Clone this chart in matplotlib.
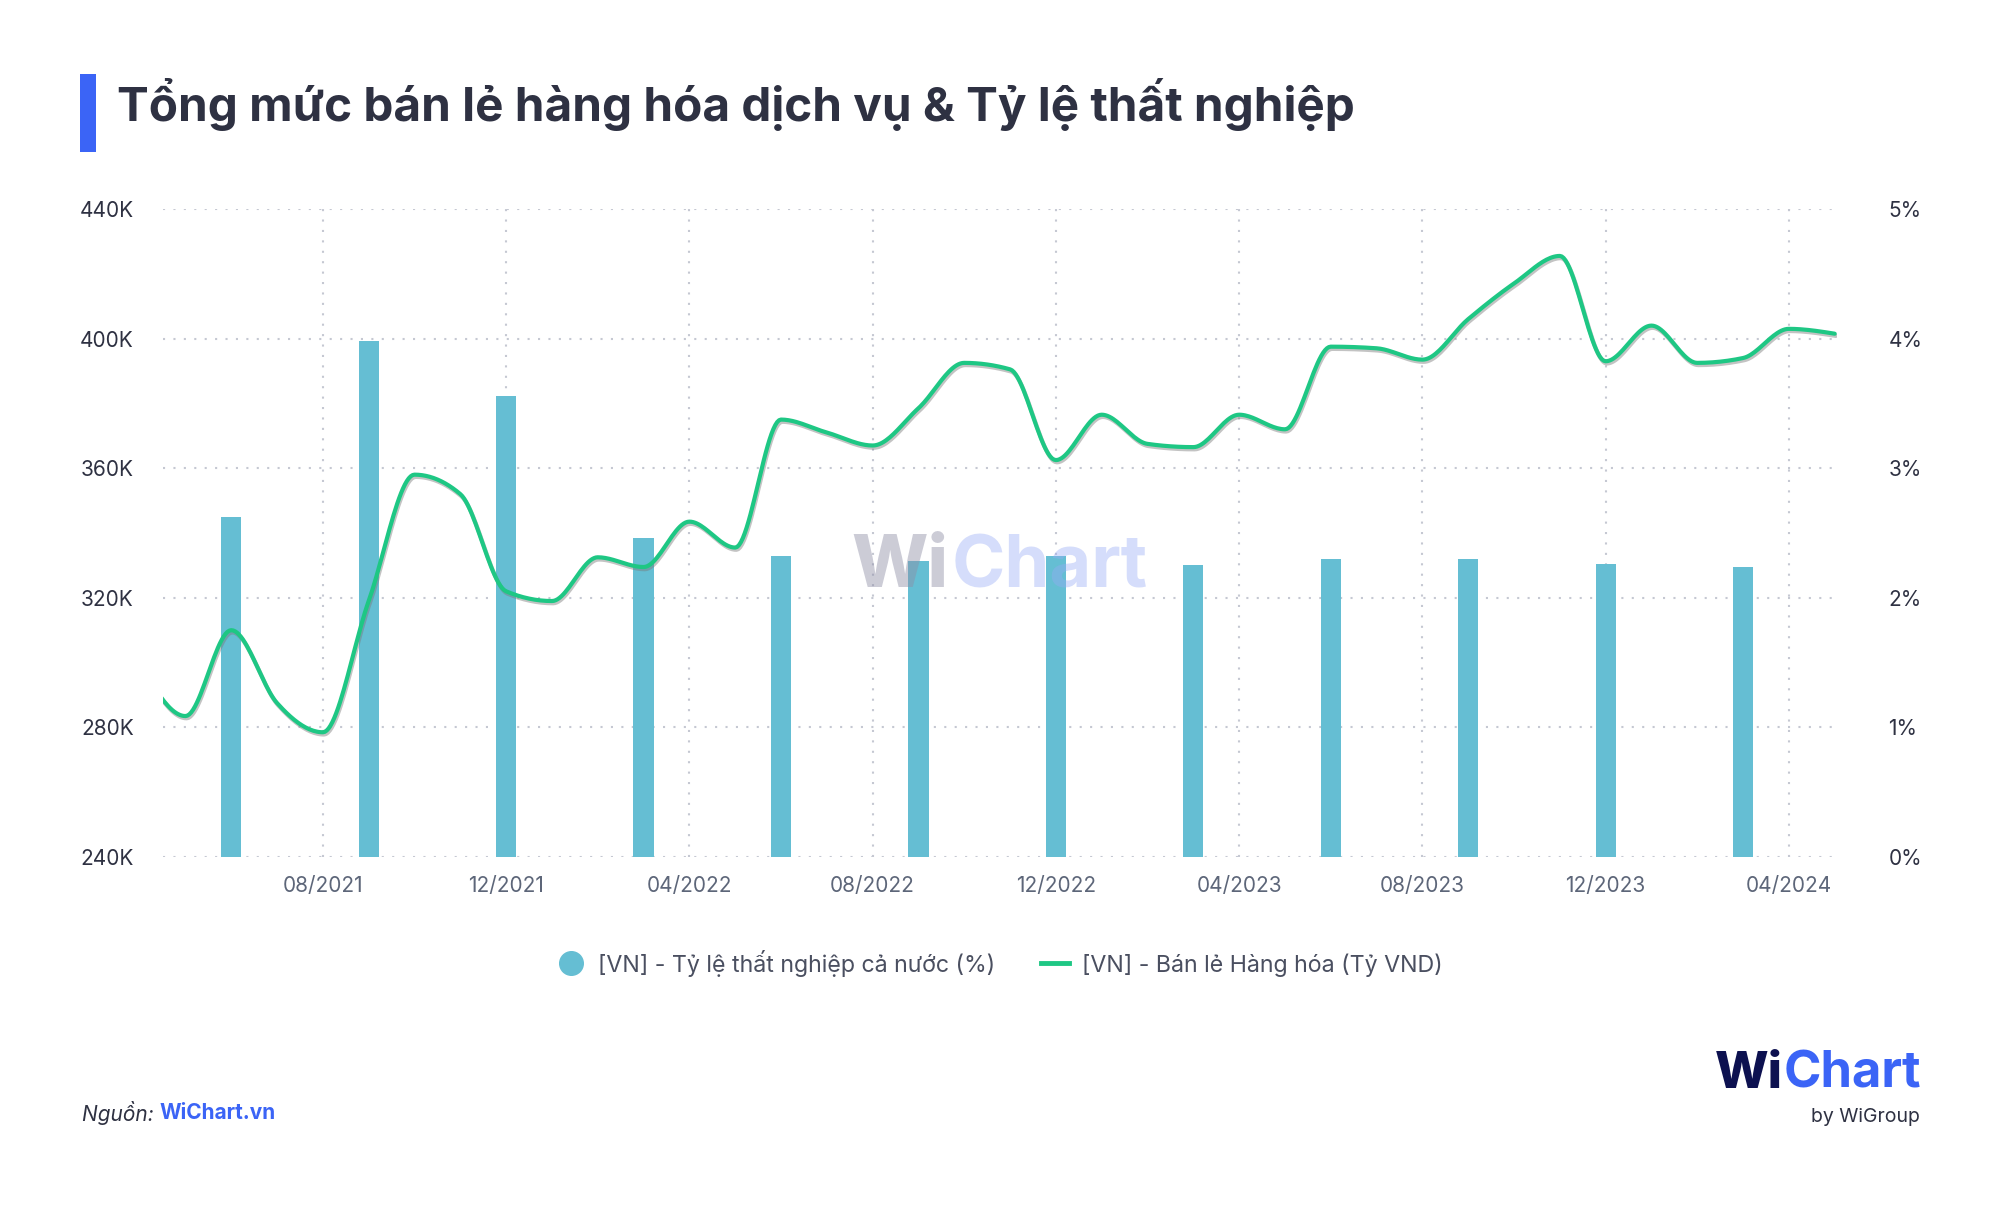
import numpy as np
import matplotlib
matplotlib.use("Agg")
import matplotlib.pyplot as plt
from matplotlib.lines import Line2D
from matplotlib.patches import Rectangle
import matplotlib.patheffects as pe

plt.rcParams['font.family'] = ['Inter', 'DejaVu Sans']

# ---------------- data ----------------
months = ["2021-04", "2021-05", "2021-06", "2021-07", "2021-08", "2021-09", "2021-10",
          "2021-11", "2021-12", "2022-01", "2022-02", "2022-03", "2022-04", "2022-05",
          "2022-06", "2022-07", "2022-08", "2022-09", "2022-10", "2022-11", "2022-12",
          "2023-01", "2023-02", "2023-03", "2023-04", "2023-05", "2023-06", "2023-07",
          "2023-08", "2023-09", "2023-10", "2023-11", "2023-12", "2024-01", "2024-02",
          "2024-03", "2024-04", "2024-05"]
retail_k = [300, 283.5, 310, 287.5, 278.5, 319, 358, 352, 322, 319, 332.5, 329.5,
            343.5, 335.5, 375, 371, 367, 378.5, 392.5, 390.5, 362.5, 376.5, 367.5,
            366.5, 376.5, 372, 397.5, 397, 393.5, 406, 417, 425.5, 393, 404, 392.5,
            394, 403, 401.5]
quarters = ["2021-06", "2021-09", "2021-12", "2022-03", "2022-06", "2022-09",
            "2022-12", "2023-03", "2023-06", "2023-09", "2023-12", "2024-03"]
unemp = [2.62, 3.98, 3.56, 2.46, 2.32, 2.28, 2.32, 2.25, 2.30, 2.30, 2.26, 2.24]
xtick_months = ["2021-08", "2021-12", "2022-04", "2022-08", "2022-12",
                "2023-04", "2023-08", "2023-12", "2024-04"]
xtick_labels = ["08/2021", "12/2021", "04/2022", "08/2022", "12/2022",
                "04/2023", "08/2023", "12/2023", "04/2024"]
left_ticks = [240, 280, 320, 360, 400, 440]
left_labels = ["240K", "280K", "320K", "360K", "400K", "440K"]
right_ticks = [0, 1, 2, 3, 4, 5]
right_labels = ["0%", "1%", "2%", "3%", "4%", "5%"]

title = "Tổng mức bán lẻ hàng hóa dịch vụ & Tỷ lệ thất nghiệp"
legend_bar = "[VN] - Tỷ lệ thất nghiệp cả nước (%)"
legend_line = "[VN] - Bán lẻ Hàng hóa (Tỷ VND)"


def midx(s):
    y, m = s.split("-")
    return (int(y) - 2021) * 12 + int(m) - 8   # 0 = Aug 2021


def monotone_x(x, y, n=24):
    x = np.asarray(x, float); y = np.asarray(y, float)
    h = np.diff(x); s = np.diff(y) / h
    m = np.zeros_like(y)
    for k in range(1, len(y) - 1):
        h0, h1, s0, s1 = h[k - 1], h[k], s[k - 1], s[k]
        p = (s0 * h1 + s1 * h0) / (h0 + h1)
        m[k] = (np.sign(s0) + np.sign(s1)) * min(abs(s0), abs(s1), 0.5 * abs(p))
    m[0] = (3 * s[0] - m[1]) / 2
    m[-1] = (3 * s[-1] - m[-2]) / 2
    xs, ys = [], []
    for k in range(len(h)):
        t = np.linspace(0, 1, n, endpoint=False)
        h00 = 2 * t**3 - 3 * t**2 + 1; h10 = t**3 - 2 * t**2 + t
        h01 = -2 * t**3 + 3 * t**2; h11 = t**3 - t**2
        xs.append(x[k] + t * h[k])
        ys.append(h00 * y[k] + h10 * h[k] * m[k] + h01 * y[k + 1] + h11 * h[k] * m[k + 1])
    xs.append([x[-1]]); ys.append([y[-1]])
    return np.concatenate(xs), np.concatenate(ys)


bar_color = "#65BED3"
line_color = "#1EC784"
grid_color = "#C5C8D2"
text_dark = "#2E3142"
tick_gray = "#5D6679"

fig = plt.figure(figsize=(20, 12.17), dpi=100)
fig.patch.set_facecolor("white")

ax_bar = fig.add_axes([0.0815, 0.2958, 0.837, 0.5325])
ax = ax_bar.twinx()
ax.set_zorder(ax_bar.get_zorder() + 1)
ax.patch.set_visible(False)

# bars (right axis)
qx = [midx(q) for q in quarters]
ax_bar.bar(qx, unemp, width=0.44, color=bar_color, zorder=2)
ax_bar.set_ylim(0, 5)
ax_bar.set_xlim(-3.49, 33.05)
ax_bar.yaxis.tick_right()
ax_bar.set_yticks(right_ticks)
ax_bar.set_yticklabels(right_labels)
ax_bar.set_axisbelow(True)
ax_bar.grid(True, axis="both", color=grid_color, linestyle=(0, (1, 4)), linewidth=1.5)
ax_bar.set_xticks([midx(m) for m in xtick_months])
ax_bar.set_xticklabels(xtick_labels)

# line (left axis)
mx = [midx(m) for m in months]
lx, ly = monotone_x(mx, retail_k)
ax.plot(lx, ly, color=line_color, linewidth=3.0, solid_capstyle="round",
        path_effects=[pe.SimpleLineShadow(offset=(0.8, -1.6), shadow_color="#7a7a7a", alpha=0.45),
                      pe.Normal()], zorder=3)
ax.set_ylim(240, 440)
ax.set_xlim(-3.49, 33.05)
ax.yaxis.tick_left()
ax.set_yticks(left_ticks)
ax.set_yticklabels(left_labels)

for a in (ax, ax_bar):
    for sp in a.spines.values():
        sp.set_visible(False)
    a.tick_params(length=0)
ax.tick_params(axis="y", labelsize=15, labelcolor=text_dark, pad=21)
ax_bar.tick_params(axis="y", labelsize=15, labelcolor=text_dark, pad=37)
ax_bar.tick_params(axis="x", labelsize=15, labelcolor=tick_gray, pad=14)

# title
fig.add_artist(Rectangle((0.040, 0.875), 0.0078, 0.0645, transform=fig.transFigure,
                         color="#3B64F6", lw=0))
fig.text(0.0585, 0.9145, title, fontsize=34.3, fontweight="bold", color=text_dark,
         va="center", ha="left")

# legend
handles = [Line2D([], [], marker="o", linestyle="none", markersize=17,
                  markerfacecolor=bar_color, markeredgecolor=bar_color),
           Line2D([], [], color=line_color, linewidth=3.5)]
fig.legend(handles, [legend_bar, legend_line], loc="center", bbox_to_anchor=(0.5, 0.2087),
           ncol=2, frameon=False, fontsize=16.7, labelcolor="#4A4F60",
           handlelength=1.2, handletextpad=0.55, columnspacing=2.0)

# watermark
fig.canvas.draw()
w1 = fig.text(0.4255, 0.533, "Wi", fontsize=52, fontweight="heavy", color="#8E8EA6", alpha=0.45,
              va="center", ha="left")
fig.canvas.draw()
bw = w1.get_window_extent()
fig.text(bw.x1 / fig.bbox.width + 0.002, 0.533, "Chart", fontsize=52, fontweight="bold",
         color="#97AAF5", alpha=0.4, va="center", ha="left")

# source
t1 = fig.text(0.041, 0.0855, "Nguồn: ", fontsize=15, style="italic", color=text_dark,
              va="center", ha="left")
fig.canvas.draw()
bb = t1.get_window_extent()
fig.text(bb.x1 / fig.bbox.width, 0.0855, "WiChart.vn", fontsize=15, fontweight="bold",
         color="#3B64F6", va="center", ha="left")

# logo
l2 = fig.text(0.9605, 0.1175, "Chart", fontsize=36.5, fontweight="bold",
              color="#3B64F6", va="center", ha="right")
fig.canvas.draw()
bl = l2.get_window_extent()
fig.text(bl.x0 / fig.bbox.width - 0.0005, 0.1175, "Wi", fontsize=36.5, fontweight="heavy",
         color="#0D1150", va="center", ha="right")
fig.text(0.96, 0.0825, "by WiGroup", fontsize=14, color=text_dark, va="center", ha="right")

fig.savefig("out.png", dpi=100, facecolor="white")
